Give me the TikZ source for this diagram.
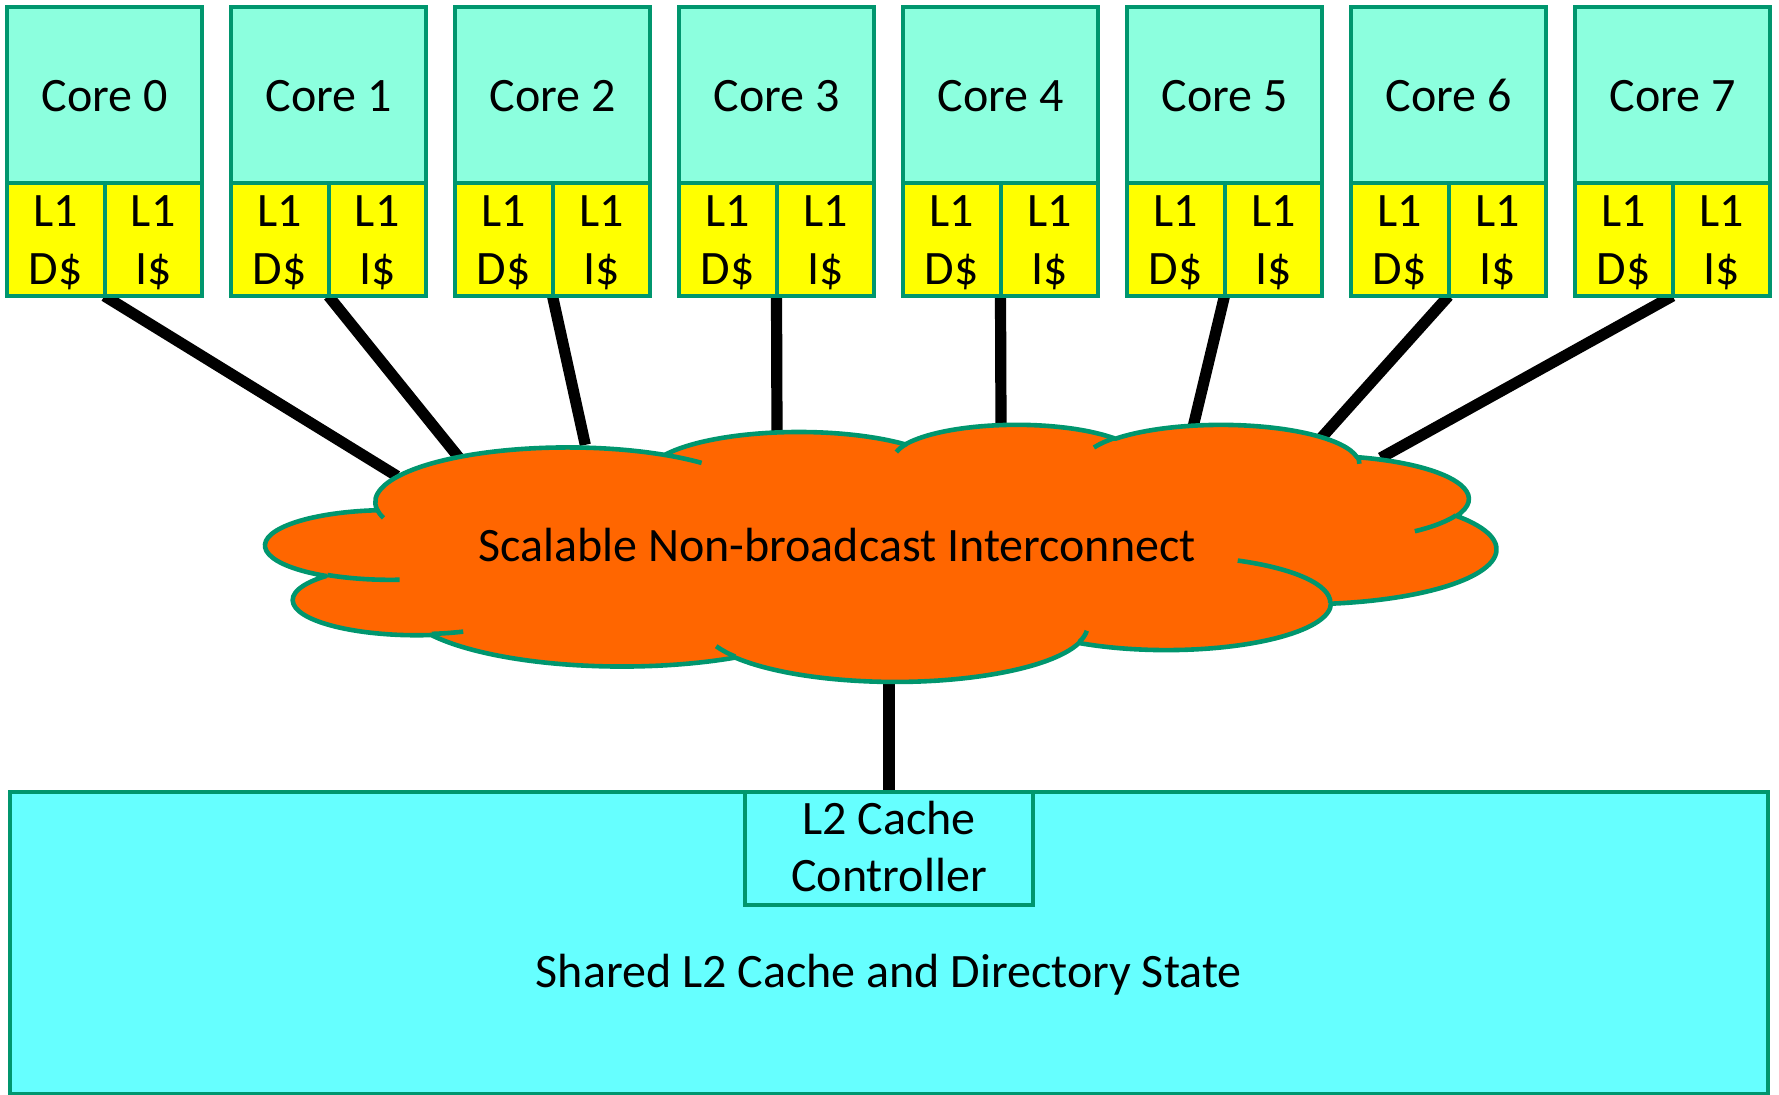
\documentclass[tikz,border=0pt]{standalone}
\usepackage{fontspec}
\setmainfont{Carlito}
\definecolor{edgegreen}{HTML}{00966E}
\definecolor{corefill}{HTML}{8CFFDE}
\definecolor{lonefill}{HTML}{FFFF00}
\definecolor{cloudfill}{HTML}{FF6600}
\definecolor{ltwofill}{HTML}{66FFFF}
\pgfdeclarelayer{bg}
\pgfsetlayers{bg,main}
\begin{document}
\begin{tikzpicture}[x=0.5pt,y=-0.5pt,
  declare function={pa(\pw,\ph,\pq)=atan2(\pw*sin(\pq),\ph*cos(\pq));},
  carc/.style n args={4}{x radius=#1,y radius=#2,start angle={pa(#1,#2,#3)},
     end angle={pa(#1,#2,#3)+mod(pa(#1,#2,#3+#4)-pa(#1,#2,#3)+720,360)}},
  box/.style={draw=edgegreen,line width=2pt,inner sep=0pt,outer sep=0pt},
  corebox/.style={box,fill=corefill,minimum width=97.5pt,minimum height=88pt},
  lonebox/.style={box,fill=lonefill,minimum width=48.75pt,minimum height=56.5pt},
  lbl/.style={font=\fontsize{24}{28}\selectfont,inner sep=0pt,anchor=base},
  wire/.style={line width=5.6pt,black,shorten >=-3pt},
  cloudline/.style={draw=edgegreen,line width=2.3pt},
]
\useasboundingbox (0,0) rectangle (1779,1095);
% shared L2
\node[box,fill=ltwofill,minimum width=879.25pt,minimum height=151pt] (ltwo) at (888.75,943) {};
\node[box,fill=ltwofill,minimum width=144pt,minimum height=56.5pt] (ctrl) at (889,848.5) {};
\node[lbl] (ctrlA) at (889,835) {L2 Cache};
\node[lbl] (ctrlB) at (889,892) {Controller};
\node[lbl] (ltwotext) at (888.75,988) {Shared L2 Cache and Directory State};
% cores
\foreach \i in {0,...,7}{
  \node[corebox] (core\i) at ({104.5+224*\i},95) {};
  \node[lbl] (coretext\i) at ({104.5+224*\i},112) {Core \i};
  \node[lonebox] (dc\i) at ({55.75+224*\i},239.5) {};
  \node[lonebox] (ic\i) at ({153.25+224*\i},239.5) {};
  \node[lbl] (dca\i) at ({55.75+224*\i},227) {L1};
  \node[lbl] (dcb\i) at ({55.75+224*\i},285) {D\$};
  \node[lbl] (ica\i) at ({153.25+224*\i},227) {L1};
  \node[lbl] (icb\i) at ({153.25+224*\i},285) {I\$};
}
% connectors
\foreach \i/\ex/\ey in {0/392/473,1/456/454,2/584/439,3/777/430,4/1001/423,5/1194/423,6/1323/436,7/1386/455}{
  \coordinate (e\i) at (\ex,\ey);
  \begin{pgfonlayer}{bg}
    \draw[wire] (dc\i.south east) -- (e\i);
  \end{pgfonlayer}
}
\coordinate (cb) at (889,672);
\begin{pgfonlayer}{bg}
  \draw[line width=5.6pt,black] (cb) -- (ctrl.north);
\end{pgfonlayer}
% cloud
\begin{scope}[shift={(266,424)},xscale=1230/43.2,yscale=257/43.2]
\path[fill=cloudfill,cloudline,line join=round] (3.9,14.37)
  arc[carc={6.753}{9.19}{-190.48748}{123.78053}]
  arc[carc={5.333}{7.267}{-144.10238}{89.94523}]
  arc[carc={4.365}{5.945}{-145.80792}{99.72302}]
  arc[carc={4.857}{6.595}{-130.98607}{117.24173}]
  arc[carc={5.333}{7.273}{-78.70888}{109.02692}]
  arc[carc={6.775}{9.22}{-46.26725}{130.269}]
  arc[carc={5.785}{7.867}{0.62502}{114.03333}]
  arc[carc={6.752}{9.215}{22.4516}{115.17255}]
  arc[carc={7.72}{10.543}{66.24263}{75.71102}]
  arc[carc={4.36}{5.918}{-274.94208}{146.73557}]
  arc[carc={4.345}{5.945}{-246.8285}{152.51885}]
  -- cycle;
\path[cloudline]
  (4.693,26.177) arc[carc={4.345}{5.945}{86.742}{26.4295}]
  (6.928,34.899) arc[carc={4.36}{5.918}{73.61047}{11.44747}]
  (16.478,39.09) arc[carc={6.752}{9.215}{137.62415}{14.0811}]
  (28.827,34.751) arc[carc={6.752}{9.215}{6.45327}{15.99835}]
  (34.129,22.954) arc[carc={5.785}{7.867}{-70.29235}{70.91737}]
  (41.798,15.354) arc[carc={5.333}{7.273}{30.31803}{27.7515}]
  (38.324,5.426) arc[carc={4.857}{6.595}{-13.74433}{14.85242}]
  (29.078,3.952) arc[carc={4.857}{6.595}{-149.18145}{18.197}]
  (22.141,4.72) arc[carc={4.365}{5.945}{-163.49427}{17.691}]
  (14.0,5.192) arc[carc={6.753}{9.19}{-66.70695}{12.31935}]
  (4.127,15.789) arc[carc={6.753}{9.19}{157.65435}{11.85817}];
\end{scope}
\node[lbl] (cloudtext) at (837,562) {Scalable Non-broadcast Interconnect};
\end{tikzpicture}
\end{document}
